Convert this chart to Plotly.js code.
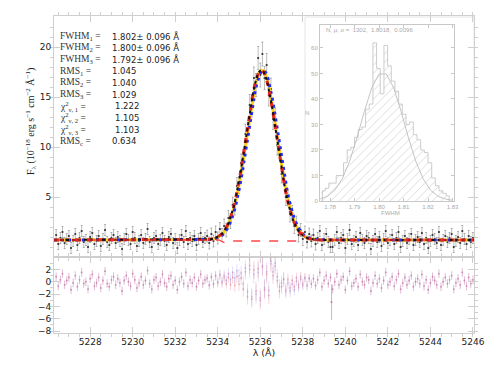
<!DOCTYPE html>
<html>
<head>
<meta charset="utf-8">
<script src="https://cdn.plot.ly/plotly-3.0.1.min.js"></script>
<style>
  body { margin: 0; background: #fff; }
  #chart { width: 490px; height: 368px; }
</style>
</head>
<body>
<div id="chart"></div>
<script>
// spectrum pixel grid (0.1 A step)
var lamStart = 5226.4, lamStep = 0.1;

// observed flux, 10^-18 erg/s/cm2/A : continuum left, line, continuum right
var fluxA = [1.2, 0.3, 0.9, 1.5, 0.4, 0.8, 1.1, -0.1, 0.6, 1.3,
  0.2, 0.9, 1.6, 0.5, 0.7, 0.0, 1.0, 1.4, 0.3, 0.6,
  1.1, 0.1, 0.8, 1.7, 0.5, 0.2, 0.9, 1.2, 0.4, 1.0,
  0.6, -0.2, 0.8, 1.3, 0.7, 0.3, 1.5, 0.9, 0.1, 0.6,
  1.2, 0.4, 0.8, 1.8, 0.5, 0.0, 0.9, 1.1, 0.3, 0.7,
  1.4, 0.6, 0.2, 1.0, 1.3, 0.4, 0.8, -0.1, 0.7, 1.2,
  0.5, 1.6, 0.3, 0.9, 0.6, 1.1, 0.2, 0.8, 1.4, 0.5, 0.9];
var fluxB = [1.1, 0.4, 1.3, 0.6, 1.5, 0.9, 1.8, 1.2, 2.1, 1.7,
  2.9, 2.6, 4.2, 4.0, 6.1, 6.2, 8.4, 8.8, 11.3, 11.5,
  14.2, 14.1, 16.9, 16.2, 18.9, 17.2, 19.3, 16.9, 18.2, 15.2,
  15.8, 12.8, 12.9, 10.2, 9.8, 7.3, 7.1, 5.0, 4.9, 3.3,
  3.4, 2.1, 2.4, 1.2, 1.7, 0.8, 1.5, 0.5, 1.3, 0.6, 1.2, 0.3];
var fluxC = [0.9, 1.6, 0.2, 0.8, 1.3, 0.5, 0.0, 0.0, 0.7, 1.5,
  0.4, 0.9, 1.2, -0.1, 0.8, 1.7, 0.3, 0.6, 1.0, 0.2,
  1.4, 0.7, 0.4, 1.1, 0.9, -0.2, 0.6, 1.3, 0.5, 1.0,
  0.1, 0.8, 1.6, 0.4, 0.7, 1.2, 0.3, 0.9, 1.5, 0.0,
  0.6, 1.1, 0.4, 0.8, 1.3, 0.2, 0.7, 1.0, 0.5, 1.4,
  0.3, 0.9, -0.1, 0.6, 1.2, 0.8, 0.4, 1.5, 0.2, 0.7,
  1.1, 0.5, 0.9, 1.3, 0.0, 0.6, 1.0, 0.4, 1.6, 0.8,
  0.3, 1.1, 0.5, 0.9];
var errCont = 0.55;
var errLine = [0.6, 0.6, 0.6, 0.6, 0.6, 0.6, 0.65, 0.65, 0.7, 0.7,
  0.75, 0.75, 0.8, 0.8, 0.85, 0.85, 0.9, 0.95, 1.0, 1.0,
  1.05, 1.1, 1.1, 1.15, 1.15, 1.2, 1.2, 1.15, 1.15, 1.1,
  1.1, 1.05, 1.0, 1.0, 0.95, 0.9, 0.85, 0.85, 0.8, 0.8,
  0.75, 0.75, 0.7, 0.7, 0.65, 0.65, 0.6, 0.6, 0.6, 0.6, 0.6, 0.6];

// model fits
var fitLam = [5226.3, 5228.0, 5230.0, 5232.0, 5233.0, 5233.25, 5233.45, 5233.65, 5233.85,
  5234.05, 5234.15, 5234.25, 5234.35, 5234.45, 5234.55, 5234.65, 5234.75, 5234.85, 5234.95,
  5235.05, 5235.15, 5235.25, 5235.35, 5235.45, 5235.55, 5235.65, 5235.75, 5235.85, 5235.95,
  5236.05, 5236.15, 5236.25, 5236.35, 5236.45, 5236.55, 5236.65, 5236.75, 5236.85, 5236.95,
  5237.05, 5237.15, 5237.25, 5237.35, 5237.45, 5237.55, 5237.65, 5237.75, 5237.85, 5237.95,
  5238.05, 5238.25, 5238.45, 5238.65, 5238.85, 5239.5, 5241.0, 5243.0, 5245.0, 5246.1];
var fit1 = [0.7, 0.7, 0.7, 0.7, 0.7, 0.71, 0.73, 0.77, 0.86,
  1.06, 1.22, 1.45, 1.75, 2.14, 2.64, 3.27, 4.03, 4.94, 5.99,
  7.18, 8.48, 9.87, 11.30, 12.71, 14.06, 15.27, 16.29, 17.06, 17.54,
  17.70, 17.54, 17.06, 16.29, 15.27, 14.06, 12.71, 11.30, 9.87, 8.48,
  7.18, 5.99, 4.94, 4.03, 3.27, 2.64, 2.14, 1.75, 1.45, 1.22,
  1.06, 0.86, 0.77, 0.73, 0.71, 0.7, 0.7, 0.7, 0.7, 0.7];
var fit2 = [0.7, 0.7, 0.7, 0.7, 0.7, 0.71, 0.73, 0.76, 0.84,
  1.02, 1.16, 1.38, 1.65, 2.00, 2.47, 3.05, 3.78, 4.62, 5.63,
  6.78, 8.06, 9.44, 10.87, 12.29, 13.69, 14.92, 16.02, 16.87, 17.44,
  17.68, 17.61, 17.22, 16.53, 15.58, 14.42, 13.11, 11.72, 10.30, 8.90,
  7.56, 6.34, 5.25, 4.29, 3.49, 2.82, 2.28, 1.86, 1.53, 1.29,
  1.11, 0.88, 0.78, 0.73, 0.71, 0.7, 0.7, 0.7, 0.7, 0.7];
var fit3 = [0.7, 0.7, 0.7, 0.7, 0.7, 0.705, 0.72, 0.75, 0.83,
  0.98, 1.09, 1.26, 1.50, 1.82, 2.23, 2.76, 3.42, 4.21, 5.15,
  6.22, 7.44, 8.76, 10.16, 11.58, 12.98, 14.30, 15.48, 16.45, 17.15,
  17.60, 17.69, 17.46, 16.92, 16.10, 15.03, 13.79, 12.43, 11.01, 9.59,
  8.22, 6.94, 5.78, 4.76, 3.88, 3.14, 2.54, 2.06, 1.69, 1.40,
  1.19, 0.93, 0.80, 0.74, 0.72, 0.7, 0.7, 0.7, 0.7, 0.7];
var compLam = [5226.3, 5234.05, 5234.3, 5234.5, 5237.75, 5237.95, 5238.2, 5246.1];
var compFlux = [0.7, 0.7, 0.45, 0.6, 0.6, 1.5, 0.7, 0.7];

// residuals (data - model) / err
var residA = [0.8, -0.7, 0.3, 1.3, -0.5, 0.2, 0.7, -1.3, -0.2, 1.0,
  -0.8, 0.3, 1.5, -0.3, 0.0, -1.2, 0.5, 1.2, -0.7, -0.2,
  0.7, -1.0, 0.2, 1.7, -0.3, -0.8, 0.3, 0.8, -0.5, 0.5,
  -0.2, -1.5, 0.2, 1.0, 0.0, -0.7, 1.3, 0.3, -1.0, -0.2,
  0.8, -0.5, 0.2, 1.8, -0.3, -1.2, 0.3, 0.7, -0.7, 0.0,
  1.2, -0.2, -0.8, 0.5, 1.0, -0.5, 0.2, -1.3, 0.0, 0.8,
  -0.3, 1.5, -0.7, 0.3, -0.2, 0.7, -0.8, 0.2, 1.2, -0.3, 0.3];
var residB1 = [0.6, -0.6, 0.8, -0.4, 1.0, -0.2, 1.0, -0.2, 0.7, -0.3,
  0.7, -0.5, 0.7, -0.6, 0.8, -0.4, 0.6, -1.2, 1.6, -2.4,
  2.6, -2.8, 1.9, -1.5, 2.1, -3.0, 2.4, -1.3, 1.2, -2.2,
  2.9, 1.0, 2.5, 0.2, -1.5, -0.8, 0.5, -1.3, 0.3, -1.0,
  0.2, -0.8, 0.6, -0.5, 0.8, -0.3, 0.7, -0.5, 0.6, -0.3, 0.5, -0.6];
var residB3 = [0.5, -0.5, 0.7, -0.3, 0.9, 0.0, 1.2, 0.1, 1.0, 0.2,
  1.3, 0.4, 1.5, 0.6, 1.8, 1.0, 1.4, -0.3, 2.2, -1.6,
  2.0, -2.4, 1.2, -2.0, 1.5, -2.6, 2.6, -1.0, 1.6, -1.4,
  3.3, 1.6, 3.0, 0.8, -0.8, -0.2, 0.3, -1.6, -0.2, -1.5,
  -0.4, -1.3, 0.1, -0.9, 0.4, -0.6, 0.5, -0.7, 0.5, -0.4, 0.5, -0.6];
var residC = [0.3, 1.5, -0.8, 0.2, 1.0, -0.3, 0.7, -1.2, 0.0, 1.3,
  -0.5, 0.3, 0.8, -1.3, 0.2, 1.7, -0.7, -0.2, 0.5, -0.8,
  1.2, 0.0, -0.5, 0.7, 0.3, -1.5, -0.2, 1.0, -0.3, 0.5,
  -1.0, 0.2, 1.5, -0.5, 0.0, 0.8, -0.7, 0.3, 1.3, -1.2,
  -0.2, 0.7, -0.5, 0.2, 1.0, -0.8, 0.0, 0.5, -0.3, 1.2,
  -0.7, 0.3, -1.3, -0.2, 0.8, 0.2, -0.5, 1.3, -0.8, 0.0,
  0.7, -0.3, 0.3, 1.0, -1.2, -0.2, 0.5, -0.5, 1.5, 0.2,
  -0.7, 0.7, -0.3, 0.3];
var resErrCont = 0.7;
var resErrLine = [0.7, 0.7, 0.7, 0.7, 0.75, 0.75, 0.8, 0.8, 0.85, 0.85,
  0.9, 0.9, 1.0, 1.0, 1.05, 1.1, 1.15, 1.2, 1.25, 1.3,
  1.35, 1.4, 1.45, 1.5, 1.5, 1.5, 1.5, 1.5, 1.5, 1.45,
  1.4, 1.35, 1.3, 1.25, 1.2, 1.15, 1.1, 1.05, 1.0, 1.0,
  0.9, 0.9, 0.85, 0.85, 0.8, 0.8, 0.75, 0.75, 0.7, 0.7, 0.7, 0.7];
var spikeLam = [5239.35], spikeRes = [-3.3], spikeErr = [2.9];

// inset: FWHM distribution of the Monte Carlo runs
var binWidth = 0.0015;
var binCenters = [1.77725, 1.77875, 1.78025, 1.78175, 1.78325, 1.78475, 1.78625, 1.78775, 1.78925, 1.79075,
  1.79225, 1.79375, 1.79525, 1.79675, 1.79825, 1.79975, 1.80125, 1.80275, 1.80425, 1.80575,
  1.80725, 1.80875, 1.81025, 1.81175, 1.81325, 1.81475, 1.81625, 1.81775, 1.81925, 1.82075,
  1.82225, 1.82375, 1.82525, 1.82675, 1.82825];
var binCounts = [4, 5, 7, 7, 10, 10, 15, 20, 21, 25,
  28, 29, 36, 38, 62, 52, 42, 61, 53, 47,
  43, 38, 34, 30, 31, 26, 24, 20, 19, 15,
  9, 6, 4, 3, 2];
var gaussX = [1.776, 1.779, 1.782, 1.785, 1.788, 1.791, 1.794, 1.797, 1.800, 1.803,
  1.806, 1.809, 1.812, 1.815, 1.818, 1.821, 1.824, 1.827, 1.830];
var gaussY = [0.8, 1.9, 4.3, 8.7, 15.6, 24.8, 35.1, 44.3, 49.8, 49.8,
  44.3, 35.1, 24.8, 15.6, 8.7, 4.3, 1.9, 0.8, 0.3];

// fit statistics
var statLabels = ['FWHM<sub>1</sub> =', 'FWHM<sub>2</sub> =', 'FWHM<sub>3</sub> =',
  'RMS<sub>1</sub> =', 'RMS<sub>2</sub> =', 'RMS<sub>3</sub> =',
  'χ<sup>2</sup><sub>ν, 1</sub> =', 'χ<sup>2</sup><sub>ν, 2</sub> =', 'χ<sup>2</sup><sub>ν, 3</sub> =',
  'RMS<sub>c</sub> ='];
var statValues = ['1.802± 0.096 Å', '1.800± 0.096 Å', '1.792± 0.096 Å',
  '1.045', '1.040', '1.029', '1.222', '1.105', '1.103', '0.634'];

// ---- build
var nA = fluxA.length, nB = fluxB.length;
var lam = [];
for (var i = 0; i < nA + nB + fluxC.length; i++) {
  lam.push(Math.round((lamStart + i * lamStep) * 100) / 100);
}
var lamA = lam.slice(0, nA), lamB = lam.slice(nA, nA + nB), lamC = lam.slice(nA + nB);
var lamCont = lamA.concat(lamC), fluxCont = fluxA.concat(fluxC), residCont = residA.concat(residC);

var dataColor = '#333';
var barColor = 'rgba(0,0,0,0.38)';
var redRes = 'rgba(230,90,110,0.42)';
var blueRes = 'rgba(110,110,235,0.35)';

var traces = [
  {x: lamCont, y: fluxCont, type: 'scatter', mode: 'markers', xaxis: 'x', yaxis: 'y',
   marker: {size: 2.2, color: dataColor},
   error_y: {type: 'constant', value: errCont, color: barColor, thickness: 0.7, width: 1}},
  {x: lamB, y: fluxB, type: 'scatter', mode: 'markers', xaxis: 'x', yaxis: 'y',
   marker: {size: 2.2, color: dataColor},
   error_y: {type: 'data', array: errLine, color: barColor, thickness: 0.7, width: 1}},
  {x: fitLam, y: fit2, type: 'scatter', mode: 'lines', xaxis: 'x', yaxis: 'y',
   line: {color: '#ffd21a', width: 3}},
  {x: fitLam, y: fit3, type: 'scatter', mode: 'lines', xaxis: 'x', yaxis: 'y',
   line: {color: '#1f2cff', width: 3, dash: '3px,4px'}},
  {x: fitLam, y: fit1, type: 'scatter', mode: 'lines', xaxis: 'x', yaxis: 'y',
   line: {color: '#e8251f', width: 3, dash: '5px,6px'}},
  {x: fitLam, y: fit1, type: 'scatter', mode: 'lines', xaxis: 'x', yaxis: 'y',
   line: {color: '#111', width: 2, dash: 'dot'}},
  {x: compLam, y: compFlux, type: 'scatter', mode: 'lines', xaxis: 'x', yaxis: 'y',
   line: {color: 'rgba(255,40,40,0.85)', width: 1.3, dash: 'dash'}},

  // residuals
  {x: lamCont, y: residCont, type: 'scatter', mode: 'markers', xaxis: 'x2', yaxis: 'y2',
   marker: {size: 1.8, color: blueRes},
   error_y: {type: 'constant', value: resErrCont, color: blueRes, thickness: 0.6, width: 0}},
  {x: lamCont, y: residCont, type: 'scatter', mode: 'markers', xaxis: 'x2', yaxis: 'y2',
   marker: {size: 1.8, color: redRes},
   error_y: {type: 'constant', value: resErrCont, color: redRes, thickness: 0.6, width: 0}},
  {x: lamB, y: residB3, type: 'scatter', mode: 'markers', xaxis: 'x2', yaxis: 'y2',
   marker: {size: 1.8, color: blueRes},
   error_y: {type: 'data', array: resErrLine, color: blueRes, thickness: 0.6, width: 0}},
  {x: lamB, y: residB1, type: 'scatter', mode: 'markers', xaxis: 'x2', yaxis: 'y2',
   marker: {size: 1.8, color: redRes},
   error_y: {type: 'data', array: resErrLine, color: redRes, thickness: 0.6, width: 0}},
  {x: spikeLam, y: spikeRes, type: 'scatter', mode: 'markers', xaxis: 'x2', yaxis: 'y2',
   marker: {size: 2.2, color: 'rgba(180,80,150,0.6)'},
   error_y: {type: 'data', array: spikeErr, color: 'rgba(180,80,150,0.45)', thickness: 1, width: 0}},

  // inset histogram
  {x: binCenters, y: binCounts, type: 'bar', width: binWidth, xaxis: 'x3', yaxis: 'y3',
   marker: {color: 'white', line: {width: 0},
            pattern: {shape: '/', fgcolor: '#cfcfcf', size: 6, solidity: 0.12}}},
  {x: [binCenters[0] - binWidth / 2].concat(binCenters, [binCenters[binCenters.length - 1] + binWidth / 2]),
   y: [0].concat(binCounts, [0]), type: 'scatter', mode: 'lines', xaxis: 'x3', yaxis: 'y3',
   line: {color: '#c0c0c0', width: 0.8, shape: 'hvh'}},
  {x: gaussX, y: gaussY, type: 'scatter', mode: 'lines', xaxis: 'x3', yaxis: 'y3',
   line: {color: '#bdbdbd', width: 0.9}}
];

var frame = {showline: true, linecolor: '#cfcfcf', linewidth: 1, mirror: 'ticks',
  ticks: 'inside', tickcolor: '#cfcfcf', ticklen: 6, zeroline: false, showgrid: false};
function ax(o) { return Object.assign({}, frame, o); }

var W = 490, H = 368, mL = 54, mR = 16, mT = 16, mB = 35;
function px(x) { return (x - mL) / (W - mL - mR); }
function py(y) { return (H - mB - y) / (H - mT - mB); }

var tickFont = {family: 'DejaVu Sans, sans-serif', size: 9, color: '#222'};
var tinyFont = {family: 'Liberation Sans, Arial, sans-serif', size: 6, color: '#aaa'};
var split = py(257);

var annotations = [];
for (var r = 0; r < statLabels.length; r++) {
  var yy = py(36 + r * 11.7);
  annotations.push({xref: 'paper', yref: 'paper', x: px(58), y: yy, xanchor: 'left', yanchor: 'middle',
    showarrow: false, text: statLabels[r],
    font: {family: 'Liberation Serif, serif', size: 9.5, color: '#333'}});
  annotations.push({xref: 'paper', yref: 'paper', x: px(r >= 6 && r <= 8 ? 113 : 109.5), y: yy,
    xanchor: 'left', yanchor: 'middle', showarrow: false, text: statValues[r],
    font: {family: 'DejaVu Sans, sans-serif', size: 8.5, color: '#222'}});
}
annotations.push({xref: 'paper', yref: 'paper', x: px(31), y: py(122), textangle: -90,
  showarrow: false, xanchor: 'center', yanchor: 'middle',
  text: 'F<sub>λ</sub> (10<sup>−18</sup> erg s<sup>−1</sup> cm<sup>−2</sup> Å<sup>−1</sup>)',
  font: {family: 'Liberation Serif, serif', size: 10, color: '#222'}});
annotations.push({xref: 'paper', yref: 'paper', x: px(324), y: py(30), xanchor: 'left', yanchor: 'middle',
  showarrow: false, text: 'N, μ, σ =  1302,  1.8018,  0.0096', font: tinyFont});
annotations.push({xref: 'paper', yref: 'paper', x: px(390), y: py(213), xanchor: 'center', yanchor: 'middle',
  showarrow: false, text: 'FWHM', font: tinyFont});
annotations.push({xref: 'paper', yref: 'paper', x: px(307), y: py(113), xanchor: 'center', yanchor: 'middle',
  showarrow: false, text: 'N', font: tinyFont});

var layout = {
  width: W, height: H,
  margin: {l: mL, r: mR, t: mT, b: mB, pad: 0},
  paper_bgcolor: '#fff', plot_bgcolor: 'rgba(0,0,0,0)',
  showlegend: false, bargap: 0,
  xaxis: ax({domain: [0, 1], anchor: 'y', range: [5226.3, 5246.05], dtick: 2, tick0: 5226,
    showticklabels: false, minor: {dtick: 0.5, ticklen: 3, tickcolor: '#cfcfcf'}}),
  yaxis: ax({domain: [split, 1], anchor: 'x', range: [-1.0, 23.1], tickvals: [5, 10, 15, 20],
    tickfont: tickFont, minor: {dtick: 1, ticklen: 3, tickcolor: '#cfcfcf'}}),
  xaxis2: ax({domain: [0, 1], anchor: 'y2', matches: 'x', dtick: 2, tick0: 5226, tickfont: tickFont,
    minor: {dtick: 0.5, ticklen: 3, tickcolor: '#cfcfcf'},
    title: {text: 'λ (Å)', font: {family: 'DejaVu Sans, sans-serif', size: 9.5, color: '#222'}, standoff: 2}}),
  yaxis2: ax({domain: [0, split], anchor: 'x2', range: [-8.3, 4.0], tickvals: [-8, -6, -4, -2, 0, 2],
    tickfont: tickFont, minor: {dtick: 1, ticklen: 3, tickcolor: '#cfcfcf'}}),
  xaxis3: ax({domain: [px(320), px(454)], anchor: 'y3', range: [1.7759, 1.8306], dtick: 0.01, tick0: 1.78,
    tickformat: '.2f', tickfont: tinyFont, linecolor: '#c8c8c8', tickcolor: '#c8c8c8', ticklen: 3}),
  yaxis3: ax({domain: [py(201), py(25)], anchor: 'x3', range: [0, 69], dtick: 10,
    tickfont: tinyFont, linecolor: '#c8c8c8', tickcolor: '#c8c8c8', ticklen: 3}),
  shapes: [
    {type: 'rect', xref: 'paper', yref: 'paper', x0: px(305), x1: px(474), y0: py(222), y1: py(17),
     line: {color: '#e6e6e6', width: 1}, fillcolor: 'rgba(0,0,0,0)', layer: 'below'}
  ],
  annotations: annotations
};

Plotly.newPlot('chart', traces, layout, {displayModeBar: false});
</script>
</body>
</html>
